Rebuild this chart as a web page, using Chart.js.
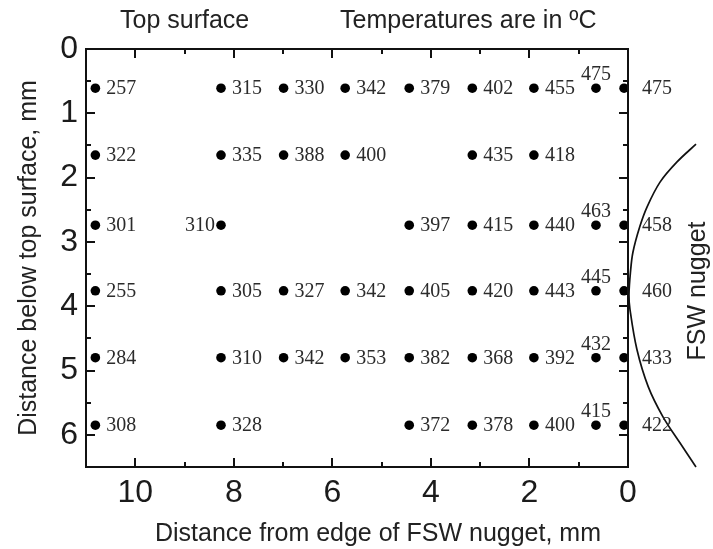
<!DOCTYPE html>
<html><head><meta charset="utf-8">
<script src="https://cdn.jsdelivr.net/npm/chart.js@4.4.1/dist/chart.umd.min.js"></script>
<style>html,body{margin:0;padding:0;background:#fff}canvas{display:block}</style>
</head><body>
<canvas id="c" width="713" height="549"></canvas>
<script>
// ---- data ----
const xPositions = [10.81, 8.26, 6.99, 5.74, 4.44, 3.16, 1.91, 0.65, 0.08]; // mm from nugget edge
const depths = [0.61, 1.65, 2.74, 3.76, 4.80, 5.85];                       // mm below top surface
const row1Temps = [257, 315, 330, 342, 379, 402, 455, 475, 475];
const row2Temps = [322, 335, 388, 400, null, 435, 418, null, null];
const row3Temps = [301, 310, null, null, 397, 415, 440, 463, 458];
const row4Temps = [255, 305, 327, 342, 405, 420, 443, 445, 460];
const row5Temps = [284, 310, 342, 353, 382, 368, 392, 432, 433];
const row6Temps = [308, 328, null, null, 372, 378, 400, 415, 422];
const xTickValues = [0, 2, 4, 6, 8, 10];
const xMinorTicks = [1, 3, 5, 7, 9];
const yTickValues = [0, 1, 2, 3, 4, 5, 6];
const yMinorTicks = [0.5, 1.5, 2.5, 3.5, 4.5, 5.5];
// nugget boundary outline
const arcX = [-1.38, -0.99, -0.65, -0.39, -0.24, -0.10, -0.05, -0.02, -0.04, -0.18, -0.41, -0.71, -1.05, -1.38];
const arcY = [1.48, 1.76, 2.07, 2.45, 2.76, 3.16, 3.47, 3.82, 4.05, 4.67, 5.25, 5.72, 6.12, 6.50];

const SANS = "'Liberation Sans', Arial, sans-serif";
const SERIF = "'Liberation Serif', 'Times New Roman', serif";
const INK = '#1b1b1b';

const rows = [row1Temps, row2Temps, row3Temps, row4Temps, row5Temps, row6Temps];
const leftLabelSpots = ['2-1']; // row index - column index whose label sits left of the dot

const rowDatasets = rows.map((temps, r) => ({
  label: 'depth ' + depths[r],
  isTemps: true,
  data: temps.map((t, i) => t === null ? null : {x: xPositions[i], y: depths[r], t: t, key: r + '-' + i}).filter(Boolean),
  backgroundColor: '#000',
  borderWidth: 0,
  pointRadius: 4.8,
  pointHoverRadius: 4.8
}));

const arcDataset = {
  label: 'FSW nugget',
  data: arcX.map((x, i) => ({x: x, y: arcY[i]})),
  showLine: true,
  borderColor: '#111',
  borderWidth: 1.7,
  pointRadius: 0,
  tension: 0.35,
  clip: false
};

const decor = {
  id: 'decor',
  afterDatasetsDraw(chart) {
    const ctx = chart.ctx;
    ctx.save();
    ctx.font = '20px ' + SERIF;
    ctx.fillStyle = '#2b2b2b';
    chart.data.datasets.forEach((ds, di) => {
      if (!ds.isTemps) return;
      const meta = chart.getDatasetMeta(di);
      meta.data.forEach((pt, j) => {
        const d = ds.data[j];
        const txt = String(d.t);
        if (d.x < 0.3) {
          ctx.textAlign = 'left'; ctx.textBaseline = 'middle';
          ctx.fillText(txt, pt.x + 18, pt.y + 1);
        } else if (d.x < 1) {
          ctx.textAlign = 'center'; ctx.textBaseline = 'alphabetic';
          ctx.fillText(txt, pt.x, pt.y - 8);
        } else if (leftLabelSpots.includes(d.key)) {
          ctx.textAlign = 'right'; ctx.textBaseline = 'middle';
          ctx.fillText(txt, pt.x - 6, pt.y + 1);
        } else {
          ctx.textAlign = 'left'; ctx.textBaseline = 'middle';
          ctx.fillText(txt, pt.x + 11, pt.y + 1);
        }
      });
    });
    ctx.restore();
  },
  afterDraw(chart) {
    const ctx = chart.ctx;
    const a = chart.chartArea;
    const xs = chart.scales.x, ys = chart.scales.y;
    ctx.save();
    ctx.strokeStyle = '#111';
    ctx.lineWidth = 2;
    ctx.strokeRect(a.left, a.top, a.right - a.left, a.bottom - a.top);
    const tick = (vals, len, isX) => {
      vals.forEach(v => {
        ctx.beginPath();
        if (isX) {
          const p = Math.round(xs.getPixelForValue(v));
          ctx.moveTo(p, a.bottom); ctx.lineTo(p, a.bottom - len);
          ctx.moveTo(p, a.top); ctx.lineTo(p, a.top + len);
        } else {
          const p = Math.round(ys.getPixelForValue(v));
          ctx.moveTo(a.left, p); ctx.lineTo(a.left + len, p);
          ctx.moveTo(a.right, p); ctx.lineTo(a.right - len, p);
        }
        ctx.stroke();
      });
    };
    tick(xTickValues, 9, true);
    tick(xMinorTicks, 5, true);
    tick(yTickValues, 9, false);
    tick(yMinorTicks, 5, false);

    ctx.fillStyle = '#222';
    ctx.font = '25px ' + SANS;
    ctx.textBaseline = 'alphabetic';
    ctx.textAlign = 'left';
    ctx.fillText('Top surface', 120, 28);
    ctx.fillText('Temperatures are in ºC', 340, 28);
    ctx.textAlign = 'center';
    ctx.fillText('Distance from edge of FSW nugget, mm', 378, 541);

    ctx.save();
    ctx.translate(36, 258);
    ctx.rotate(-Math.PI / 2);
    ctx.fillText('Distance below top surface, mm', 0, 0);
    ctx.restore();

    ctx.save();
    ctx.translate(705, 291);
    ctx.rotate(-Math.PI / 2);
    ctx.fillText('FSW nugget', 0, 0);
    ctx.restore();
    ctx.restore();
  }
};

new Chart(document.getElementById('c'), {
  type: 'scatter',
  data: {datasets: [...rowDatasets, arcDataset]},
  options: {
    responsive: false,
    animation: false,
    events: [],
    layout: {padding: {top: 49, right: 85, left: 0, bottom: 0}},
    plugins: {legend: {display: false}, tooltip: {enabled: false}},
    scales: {
      x: {
        type: 'linear', min: 0, max: 11, reverse: true,
        grid: {display: false, drawTicks: false},
        border: {display: false},
        afterBuildTicks: s => { s.ticks = xTickValues.map(v => ({value: v})); },
        afterFit: s => { s.height = 82; },
        ticks: {font: {family: SANS, size: 32}, color: INK, padding: 7, maxRotation: 0, autoSkip: false}
      },
      y: {
        type: 'linear', min: 0, max: 6.5, reverse: true,
        grid: {display: false, drawTicks: false},
        border: {display: false},
        afterBuildTicks: s => { s.ticks = yTickValues.map(v => ({value: v})); },
        afterFit: s => { s.width = 86; },
        ticks: {font: {family: SANS, size: 32}, color: INK, padding: 8, autoSkip: false}
      }
    }
  },
  plugins: [decor]
});
</script>
</body></html>
